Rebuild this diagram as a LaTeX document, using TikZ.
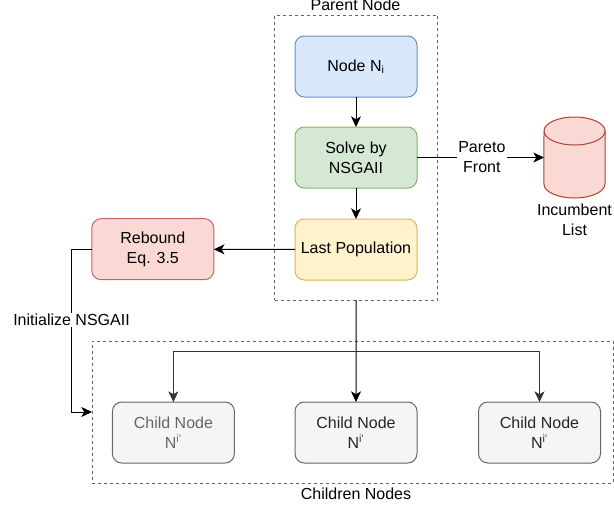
\documentclass[tikz,border=0pt]{standalone}
\usepackage{fontspec}
\setmainfont{Liberation Sans}
\usetikzlibrary{calc,arrows.meta}
\definecolor{blueF}{HTML}{DAE8FC}
\definecolor{blueD}{HTML}{6C8EBF}
\definecolor{greenF}{HTML}{D5E8D4}
\definecolor{greenD}{HTML}{82B366}
\definecolor{yellowF}{HTML}{FFF2CC}
\definecolor{yellowD}{HTML}{D6B656}
\definecolor{redF}{HTML}{FAD9D5}
\definecolor{redD}{HTML}{AE4132}
\definecolor{greyF}{HTML}{F5F5F5}
\definecolor{greyD}{HTML}{666666}
\tikzset{
  box/.style={draw,rounded corners=7pt,minimum width=91.5pt,minimum height=45.75pt,
    inner sep=0pt,outer sep=0pt,align=center,line width=.75pt},
  childbox/.style={box,fill=greyF,draw=greyD,text=black!85},
  frame/.style={draw=greyD,dash pattern=on 2.25pt off 2.25pt,line width=.6pt,inner sep=0pt,outer sep=0pt},
  link/.style={line width=.75pt,-{Stealth[length=8pt,width=7.5pt,inset=2.2pt]}},
  twolink/.style={line width=.75pt,{Stealth[length=8pt,width=7.5pt,inset=2.2pt]}-{Stealth[length=8pt,width=7.5pt,inset=2.2pt]}},
  lbl/.style={align=center,inner sep=1pt,fill=white},
}

\begin{document}
\begin{tikzpicture}[x=0.75pt,y=-0.75pt,font=\fontsize{12pt}{15pt}\selectfont]
  \useasboundingbox (0,0) rectangle (614,508);
  % frames
  \node (parent) [frame,minimum width=122.25pt,minimum height=213.75pt] at (356.2,157.5) {};
  \node (children) [frame,minimum width=390.75pt,minimum height=106.5pt] at (352.5,412) {};
  \node (parentlbl) [inner sep=0pt] at (355.5,5) {Parent Node};
  \node (childrenlbl) [inner sep=0pt] at (356,493.5) {Children Nodes};
  % parent node
  \node (ni) [box,fill=blueF,draw=blueD] at (356,66.5) {Node N\textsubscript{i}};
  \node (solve) [box,fill=greenF,draw=greenD] at (356,157.5) {Solve by\\NSGAII};
  \node (last) [box,fill=yellowF,draw=yellowD] at (356,249.5) {Last Population};
  \node (rebound) [box,fill=redF,draw=redD!80] at (152.8,249.2) {Rebound\\Eq. 3.5};
  % children
  \node (child1) [childbox,text=greyD] at (173.4,432.5) {Child Node\\N\textsuperscript{i'}};
  \node (child2) [childbox] at (356,432.5) {Child Node\\N\textsuperscript{i'}};
  \node (child3) [childbox] at (539.5,432.5) {Child Node\\N\textsuperscript{i'}};
  % incumbent list
  \node (list) [minimum width=45.75pt,minimum height=60.75pt,inner sep=0pt,outer sep=0pt] at (574.5,157.5) {};
  \coordinate (listtl) at ($(list.north west)+(0,14)$);
  \coordinate (listbr) at ($(list.south east)+(0,-14)$);
  \draw[draw=redD,fill=redF,line width=.75pt] (listtl) arc[start angle=180,end angle=0,x radius=22.9pt,y radius=10.5pt]
    -- (listbr) arc[start angle=0,end angle=-180,x radius=22.9pt,y radius=10.5pt] -- cycle;
  \draw[draw=redD,line width=.75pt] (listtl) arc[start angle=180,end angle=360,x radius=22.9pt,y radius=10.5pt];
  \node (listlbl) [align=center,inner sep=0pt] at (574.5,219.5) {Incumbent\\List};
  % links
  \draw[link] (ni) -- (solve);
  \draw[link] (solve) -- (last);
  \draw[link] (solve) -- (list.west) node (pareto) [lbl,midway,xshift=1pt] {Pareto\\Front};
  \draw[link] (last) -- (rebound);
  \draw[link] (parent.south) -- (child2.north);
  \coordinate (branch) at ($(parent.south)+(0,51.5)$);
  \draw[twolink,draw=black!80] (child1.north) |- (branch) -| (child3.north);
  \coordinate (turn) at ($(rebound.west)+(-20.8,0)$);
  \draw[link] (rebound.west) -- (turn) |- (children.west);
  \node (init) [lbl,fill=white] at (71.5,320) {Initialize NSGAII};
\end{tikzpicture}
\end{document}
